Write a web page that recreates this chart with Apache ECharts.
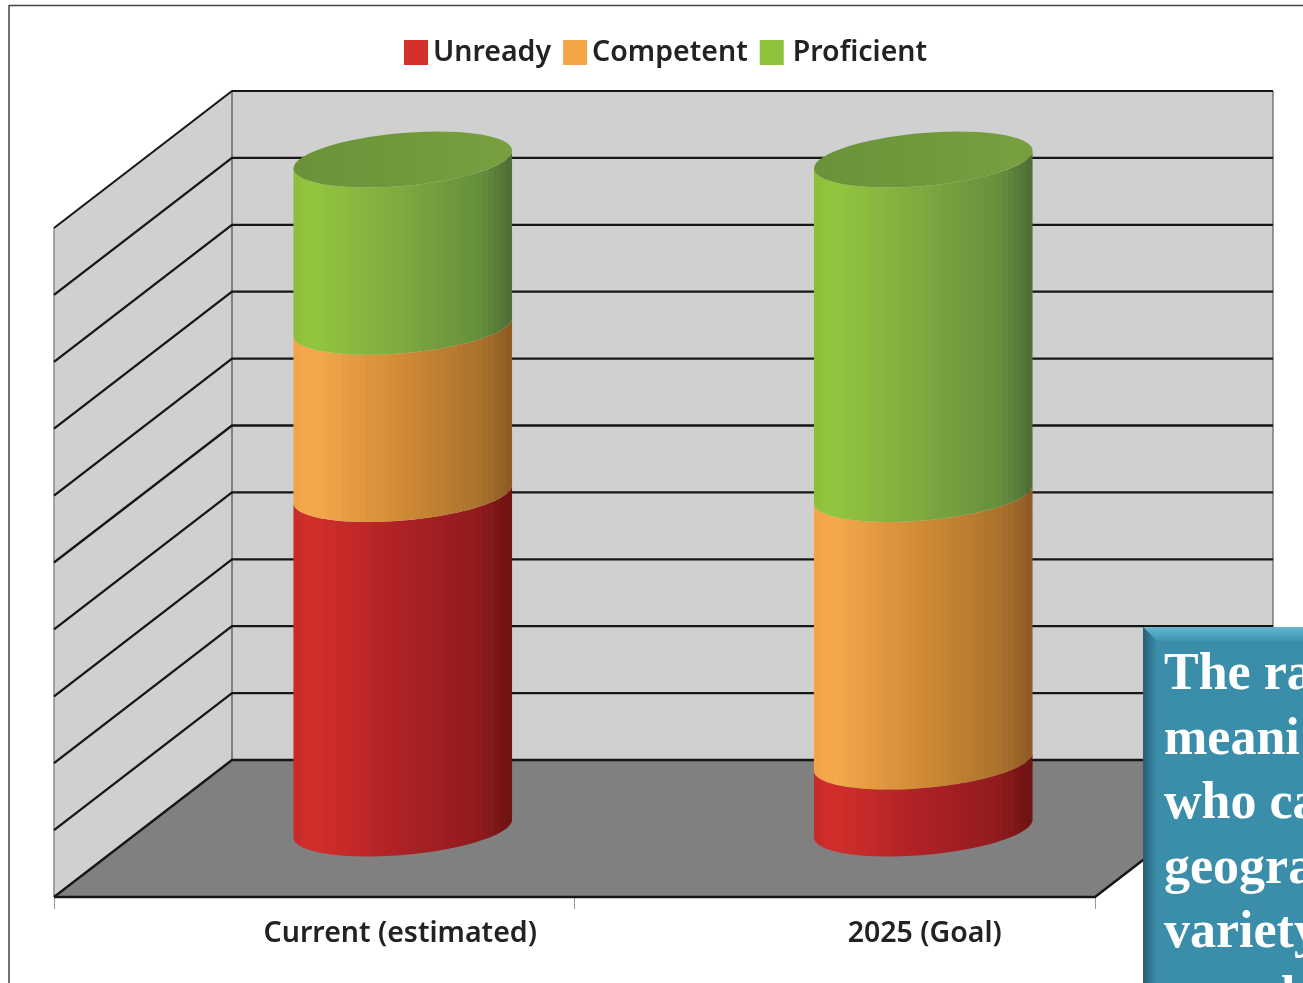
<!DOCTYPE html>
<html>
<head>
<meta charset="utf-8">
<style>html,body{margin:0;padding:0;background:#fff;overflow:hidden}#c{width:1303px;height:983px;filter:blur(0.45px)}</style>
<script src="https://cdn.jsdelivr.net/npm/echarts@6/dist/echarts.min.js"></script>
</head>
<body>
<div id="c"></div>
<script>
const categories = ['Current (estimated)', '2025 (Goal)'];
const legendNames = ['Unready', 'Competent', 'Proficient'];
const unready = [50, 10];
const competent = [25, 40];
const proficient = [25, 50];
const valueTicks = [0, 10, 20, 30, 40, 50, 60, 70, 80, 90, 100];
const noteLines = ['The ra', 'meani', 'who ca', 'geogra', 'variety'];
const noteTail = 'l';

const DX = 178, DY = -137;           // projected depth of the floor
const BAR_WIDTH_FRACTION = 0.42;     // share of the category band
const RISE = 9, SEMI = 26.5;         // tilted ellipse shape
const FACETS = 36;
const shades = {
  Unready: [[0, '#c62a28'], [0.08, '#d32f2b'], [0.5, '#ad2125'], [0.85, '#8f1b1d'], [1, '#6c1212']],
  Competent: [[0, '#f0a347'], [0.08, '#f5a94c'], [0.5, '#d08a35'], [0.85, '#ab722d'], [1, '#8c5a24']],
  Proficient: [[0, '#8cbd3a'], [0.08, '#93c63e'], [0.5, '#7fa83f'], [0.85, '#668f3d'], [1, '#4e6c34']]
};
const capShade = [[0, '#6a9238'], [1, '#78a03f']];

function sample(stops, t) {
  for (let i = 1; i < stops.length; i++) {
    if (t <= stops[i][0]) {
      const f = (t - stops[i - 1][0]) / (stops[i][0] - stops[i - 1][0]);
      return echarts.color.lerp(f, [stops[i - 1][1], stops[i][1]]);
    }
  }
  return stops[stops.length - 1][1];
}
function facetGrad(stops) {
  const out = [];
  for (let i = 0; i < FACETS; i++) {
    const c = sample(stops, (i + 0.5) / FACETS);
    out.push({ offset: i / FACETS, color: c }, { offset: (i + 1) / FACETS, color: c });
  }
  return new echarts.graphic.LinearGradient(0, 0, 1, 0, out);
}
function grad(stops) {
  return new echarts.graphic.LinearGradient(0, 0, 1, 0, stops.map(s => ({ offset: s[0], color: s[1] })));
}
function arcPoints(cx, cy, a, from, to) {
  const pts = [], n = 60;
  for (let i = 0; i <= n; i++) {
    const t = from + (to - from) * i / n;
    pts.push([cx + a * Math.cos(t), cy - RISE * Math.cos(t) + SEMI * Math.sin(t)]);
  }
  return pts;
}
function cylinder(name, withCap) {
  return function (params, api) {
    const idx = api.value(0);
    const lo = api.coord([idx, api.value(1)]);
    const hi = api.coord([idx, api.value(2)]);
    const a = api.size([1, 0])[0] * BAR_WIDTH_FRACTION / 2;
    const cx = lo[0] + DX / 2 - 0.5;
    const yLo = lo[1] + DY / 2, yHi = hi[1] + DY / 2;
    const side = arcPoints(cx, yHi, a, Math.PI, 0).concat(arcPoints(cx, yLo, a, 0, Math.PI));
    const children = [{ type: 'polygon', shape: { points: side }, style: { fill: facetGrad(shades[name]) } }];
    if (withCap) {
      children.push({ type: 'polygon', shape: { points: arcPoints(cx, yHi, a, 0, Math.PI * 2) }, style: { fill: grad(capShade) } });
    }
    return { type: 'group', children };
  };
}
function stacked(own, below) {
  return own.map((v, i) => {
    const base = below.reduce((s, arr) => s + arr[i], 0);
    return [i, base, base + v];
  });
}
function shell(params, api) {
  const cs = params.coordSys;
  const pBottom = api.coord([0, 0])[1], pTop = api.coord([0, 100])[1];
  const L = cs.x, R = cs.x + cs.width;
  const wall = '#d0d0d0';
  return {
    type: 'group',
    children: [
      { type: 'polygon', shape: { points: [[L, pBottom], [L + DX, pBottom + DY], [L + DX, pTop + DY], [L, pTop]] }, style: { fill: wall } },
      { type: 'polygon', shape: { points: [[L + DX, pBottom + DY], [R + DX, pBottom + DY], [R + DX, pTop + DY], [L + DX, pTop + DY]] }, style: { fill: wall } },
      { type: 'polygon', shape: { points: [[L, pBottom], [R, pBottom], [R + DX, pBottom + DY], [L + DX, pBottom + DY]] }, style: { fill: '#808080' } },
      { type: 'line', shape: { x1: L, y1: pBottom, x2: L, y2: pTop }, style: { stroke: '#8a8a8a', lineWidth: 1.5 } },
      { type: 'line', shape: { x1: L + DX, y1: pBottom + DY, x2: L + DX, y2: pTop + DY }, style: { stroke: '#666', lineWidth: 1.5 } },
      { type: 'line', shape: { x1: R + DX, y1: pBottom + DY, x2: R + DX, y2: pTop + DY }, style: { stroke: '#777', lineWidth: 1.5 } }
    ]
  };
}
function gridLine(params, api) {
  const cs = params.coordSys;
  const y = api.coord([0, api.value(1)])[1];
  const L = cs.x, R = cs.x + cs.width;
  const v = api.value(1);
  const children = [
    { type: 'polyline', shape: { points: [[L, y], [L + DX, y + DY], [R + DX, y + DY]] },
      style: { fill: 'none', stroke: '#161616', lineWidth: v === 100 ? 2 : 2.3 } }
  ];
  if (v === 0) {
    children.push({ type: 'polyline', shape: { points: [[L, y], [R, y], [R + DX, y + DY]] }, style: { fill: 'none', stroke: '#161616', lineWidth: 2.5 } });
  }
  return { type: 'group', children };
}

const labelFont = { fontFamily: '"Noto Sans", sans-serif', fontSize: 28.5, fontWeight: 600, color: '#222' };
const labelPad = [[0, 0, 0, 172], [0, 0, 0, 180]];
const chart = echarts.init(document.getElementById('c'), null, { renderer: 'canvas', width: 1303, height: 983 });
const serif = '"Liberation Serif", serif';
chart.setOption({
  animation: false,
  backgroundColor: '#fff',
  legend: {
    left: 399, top: 33, itemWidth: 24, itemHeight: 25, itemGap: 12, icon: 'rect',
    selectedMode: false,
    textStyle: Object.assign({ padding: [4, 0, 0, 0] }, labelFont),
    data: [
      { name: legendNames[0] },
      { name: legendNames[1] },
      { name: legendNames[2], textStyle: { padding: [4, 0, 0, 4] } }
    ]
  },
  grid: { left: 54, right: 208, top: 228, bottom: 86, containLabel: false },
  xAxis: {
    type: 'category',
    data: categories.map((c, i) => ({ value: c, textStyle: { padding: labelPad[i] } })),
    boundaryGap: true,
    axisLine: { show: false },
    axisTick: { show: true, length: 12, lineStyle: { color: '#999', width: 1 } },
    axisLabel: Object.assign({ interval: 0, margin: 22 }, labelFont)
  },
  yAxis: { type: 'value', min: 0, max: 100, interval: 10, show: false },
  series: [
    { type: 'custom', name: 'shell', coordinateSystem: 'cartesian2d', z: 1, renderItem: shell, clip: false, silent: true, data: [[0, 0]] },
    { type: 'custom', name: 'grid', coordinateSystem: 'cartesian2d', z: 2, renderItem: gridLine, clip: false, silent: true,
      data: valueTicks.map(v => [0, v]) },
    { type: 'custom', name: legendNames[0], coordinateSystem: 'cartesian2d', z: 3, clip: false, itemStyle: { color: '#d32f2b' },
      renderItem: cylinder('Unready', false), encode: { x: 0, y: 2 }, data: stacked(unready, []) },
    { type: 'custom', name: legendNames[1], coordinateSystem: 'cartesian2d', z: 4, clip: false, itemStyle: { color: '#f3a548' },
      renderItem: cylinder('Competent', false), encode: { x: 0, y: 2 }, data: stacked(competent, [unready]) },
    { type: 'custom', name: legendNames[2], coordinateSystem: 'cartesian2d', z: 5, clip: false, itemStyle: { color: '#8fc23c' },
      renderItem: cylinder('Proficient', true), encode: { x: 0, y: 2 }, data: stacked(proficient, [unready, competent]) }
  ],
  graphic: [
    { type: 'line', z: 50, shape: { x1: 9, y1: 5.5, x2: 1303, y2: 5.5 }, style: { stroke: '#444', lineWidth: 1.5 } },
    { type: 'line', z: 50, shape: { x1: 9, y1: 5, x2: 9, y2: 983 }, style: { stroke: '#444', lineWidth: 1.5 } },
    { type: 'rect', z: 60, shape: { x: 1143, y: 627, width: 160, height: 356 }, style: { fill: '#3b8ea9' } },
    { type: 'polygon', z: 61, shape: { points: [[1143, 627], [1303, 627], [1303, 641], [1157, 641]] },
      style: { fill: new echarts.graphic.LinearGradient(0, 0, 0, 1, [{ offset: 0, color: '#62b8d2' }, { offset: 1, color: '#3f93ae' }]) } },
    { type: 'polygon', z: 61, shape: { points: [[1143, 627], [1157, 641], [1157, 983], [1143, 983]] },
      style: { fill: new echarts.graphic.LinearGradient(0, 0, 1, 0, [{ offset: 0, color: '#255f74' }, { offset: 1, color: '#3b8ea9' }]) } },
    { type: 'text', z: 62, left: 1281, top: 650 + 5 * 64.5, style: { text: noteTail, fill: '#fff', font: 'bold 52px ' + serif } }
  ].concat(noteLines.map((t, i) => ({
    type: 'text', z: 62, left: 1164, top: 650 + i * 64.5,
    style: { text: t, fill: '#fff', font: 'bold 52px ' + serif }
  })))
});
</script>
</body>
</html>
